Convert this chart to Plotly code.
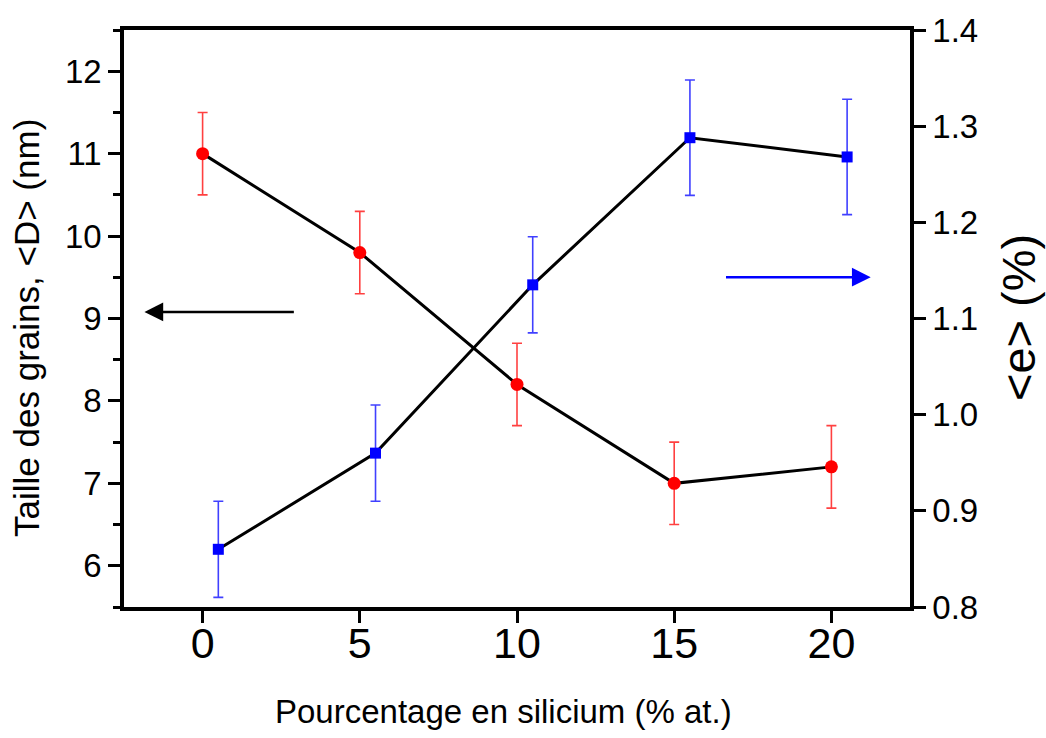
import plotly.graph_objects as go

# Grain size <D> (nm) vs silicon content
si_pct = [0, 5, 10, 15, 20]
grain_size = [11.0, 9.8, 8.2, 7.0, 7.2]
grain_err = [0.5, 0.5, 0.5, 0.5, 0.5]

# Microstrain <e> (%) vs silicon content (plotted with a small x offset)
si_pct_e = [0.5, 5.5, 10.5, 15.5, 20.5]
strain = [0.86, 0.96, 1.135, 1.288, 1.268]
strain_err = [0.05, 0.05, 0.05, 0.06, 0.06]

x_ticks = [0, 5, 10, 15, 20]
y_ticks = [6, 7, 8, 9, 10, 11, 12]
y2_ticks = [0.8, 0.9, 1.0, 1.1, 1.2, 1.3, 1.4]

FONT = "Liberation Sans, Arial, sans-serif"

fig = go.Figure()

fig.add_trace(go.Scatter(
    x=si_pct, y=grain_size, mode="lines+markers",
    line=dict(color="black", width=3),
    marker=dict(symbol="circle", size=13, color="#ff0000"),
    error_y=dict(type="data", array=grain_err, visible=True,
                 color="rgba(255,0,0,0.75)", thickness=1.6, width=5),
    yaxis="y", showlegend=False,
))

fig.add_trace(go.Scatter(
    x=si_pct_e, y=strain, mode="lines+markers",
    line=dict(color="black", width=3),
    marker=dict(symbol="square", size=11, color="#0000ff"),
    error_y=dict(type="data", array=strain_err, visible=True,
                 color="rgba(0,0,255,0.75)", thickness=1.6, width=5),
    yaxis="y2", showlegend=False,
))

# Arrows indicating which axis each curve belongs to
fig.add_annotation(x=-1.85, y=9.08, ax=2.95, ay=9.08, xref="x", yref="y",
                   axref="x", ayref="y", text="", showarrow=True,
                   arrowhead=2, arrowsize=1.5, arrowwidth=2.5, arrowcolor="black",
                   standoff=0, startstandoff=0)
fig.add_annotation(x=21.25, y=1.143, ax=16.6, ay=1.143, xref="x", yref="y2",
                   axref="x", ayref="y2", text="", showarrow=True,
                   arrowhead=2, arrowsize=1.5, arrowwidth=2.5, arrowcolor="#0000ff",
                   standoff=0, startstandoff=0)

W, H = 1046, 738
L, R, T, B = 124, 136, 26, 131
pw, ph = W - L - R, H - T - B


def px_to_paper(px, py):
    return (px - L) / pw, 1 - (py - T) / ph


# Axis titles
for text, (px, py), size, angle in [
    ("Taille des grains, &lt;D&gt; (nm)", (27, 326), 35, -90),
    ("&lt;e&gt; (%)", (1018, 316), 47, -90),
    ("Pourcentage en silicium (% at.)", (503, 712), 33, 0),
]:
    xp, yp = px_to_paper(px, py)
    fig.add_annotation(text=text, x=xp, y=yp, xref="paper", yref="paper",
                       xanchor="center", yanchor="middle", showarrow=False,
                       textangle=angle,
                       font=dict(family=FONT, size=size, color="black"))

axis_line = dict(showline=True, linecolor="black", linewidth=3.5, showgrid=False,
                 zeroline=False)

fig.update_layout(
    width=W, height=H,
    margin=dict(l=L, r=R, t=T, b=B, pad=0),
    paper_bgcolor="white", plot_bgcolor="white",
    font=dict(family=FONT, color="black"),
    xaxis=dict(range=[-2.5, 22.5], tickvals=x_ticks, ticks="outside",
               ticklen=12, tickwidth=3, tickcolor="black",
               tickfont=dict(size=43), ticklabelstandoff=-16,
               mirror=True, **axis_line),
    yaxis=dict(range=[5.5, 12.5], tickvals=y_ticks, ticks="outside",
               ticklen=12, tickwidth=3, tickcolor="black",
               tickfont=dict(size=33),
               minor=dict(ticks="outside", dtick=0.5, tick0=5.5, ticklen=7,
                          tickwidth=3, tickcolor="black"),
               **axis_line),
    yaxis2=dict(range=[0.8, 1.4], tickvals=y2_ticks,
                ticktext=[f"{v:.1f}" for v in y2_ticks],
                overlaying="y", side="right", ticks="outside",
                ticklen=12, tickwidth=3, tickcolor="black",
                tickfont=dict(size=33), **axis_line),
)

fig.write_html("out.html")
